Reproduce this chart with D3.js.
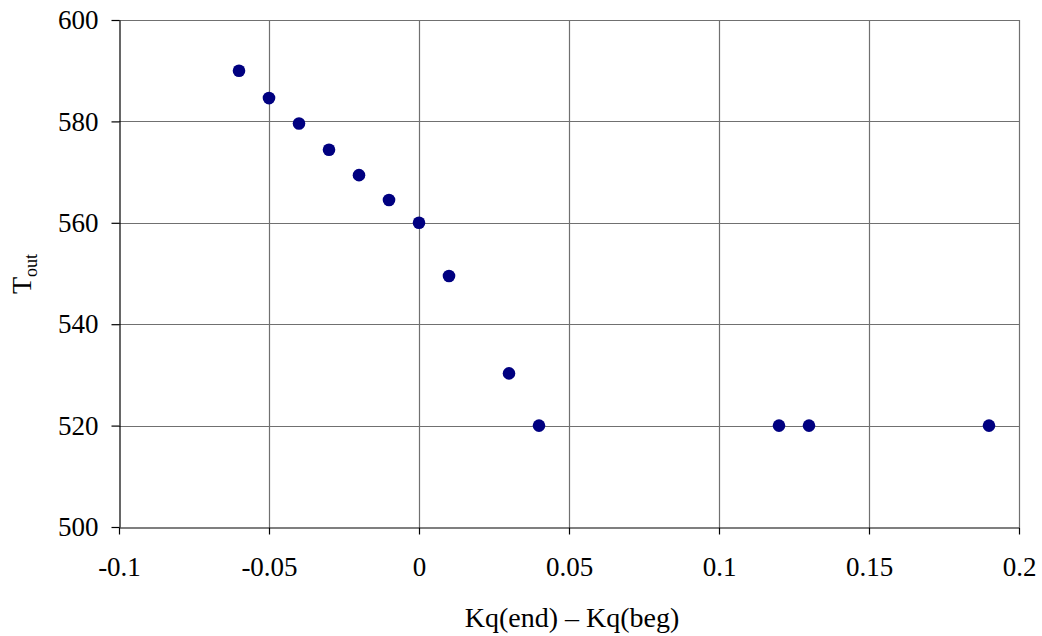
<!DOCTYPE html>
<html><head><meta charset="utf-8">
<script src="https://cdn.jsdelivr.net/npm/d3@7"></script>
<style>body{margin:0;background:#fff}svg{display:block}</style>
</head><body>
<svg id="c" width="1042" height="636"></svg>
<script>
const xValues = [-0.06, -0.05, -0.04, -0.03, -0.02, -0.01, 0, 0.01, 0.03, 0.04, 0.12, 0.13, 0.19];
const yValues = [590, 584.6, 579.6, 574.4, 569.4, 564.5, 560, 549.5, 530.3, 520, 520, 520, 520];
const xTicks = [-0.1, -0.05, 0, 0.05, 0.1, 0.15, 0.2];
const yTicks = [500, 520, 540, 560, 580, 600];
const xTitle = "Kq(end) – Kq(beg)";
const yTitle = "T";
const ySub = "out";

const svg = d3.select("#c");
const L = 119, R = 1019, T = 20, B = 527;
const x = d3.scaleLinear().domain([-0.1, 0.2]).range([L, R]);
const y = d3.scaleLinear().domain([500, 600]).range([B, T]);
const font = "'Liberation Serif','Times New Roman',serif";

// grid
const g = svg.append("g");
g.selectAll(".vg").data(xTicks.slice(1)).join("line")
  .attr("x1", d => Math.round(x(d)) + 0.5).attr("x2", d => Math.round(x(d)) + 0.5)
  .attr("y1", T).attr("y2", B).attr("stroke", "#707070").attr("stroke-width", 1.2);
g.selectAll(".hg").data(yTicks.slice(1)).join("line")
  .attr("x1", L).attr("x2", R)
  .attr("y1", d => Math.round(y(d)) + 0.5).attr("y2", d => Math.round(y(d)) + 0.5)
  .attr("stroke", "#707070").attr("stroke-width", 1.2);

// axes
const xAxis = d3.axisBottom(x).tickValues(xTicks).tickSize(7).tickSizeOuter(0).tickPadding(22);
const gx = svg.append("g").attr("transform", `translate(0,${Math.round(B)+0.5})`).call(xAxis);
const yAxis = d3.axisLeft(y).tickValues(yTicks).tickSize(8).tickSizeOuter(0).tickPadding(13);
const gy = svg.append("g").attr("transform", `translate(${L+0.5},0)`).call(yAxis);
[gx, gy].forEach(a => {
  a.select(".domain").attr("stroke", "#000").attr("stroke-width", 1.2);
  a.selectAll(".tick line").attr("stroke", "#000").attr("stroke-width", 1.2);
  a.selectAll("text").attr("font-family", font).attr("font-size", 27).attr("fill", "#000");
});
gx.selectAll(".tick text").text(d => String(d).replace("−", "-"));

// points
svg.append("g").selectAll("circle").data(xValues.map((v, i) => [v, yValues[i]])).join("circle")
  .attr("cx", d => x(d[0])).attr("cy", d => y(d[1])).attr("r", 6.3).attr("fill", "#000080");

// titles
svg.append("text").attr("x", 572).attr("y", 627).attr("text-anchor", "middle")
  .attr("font-family", font).attr("font-size", 28).attr("fill", "#000").text(xTitle);
const yt = svg.append("text").attr("transform", "translate(31,274) rotate(-90)")
  .attr("text-anchor", "middle").attr("font-family", font).attr("font-size", 28).attr("fill", "#000");
yt.append("tspan").text(yTitle);
yt.append("tspan").attr("font-size", 18).attr("dy", 6).text(ySub);
</script>
</body></html>
